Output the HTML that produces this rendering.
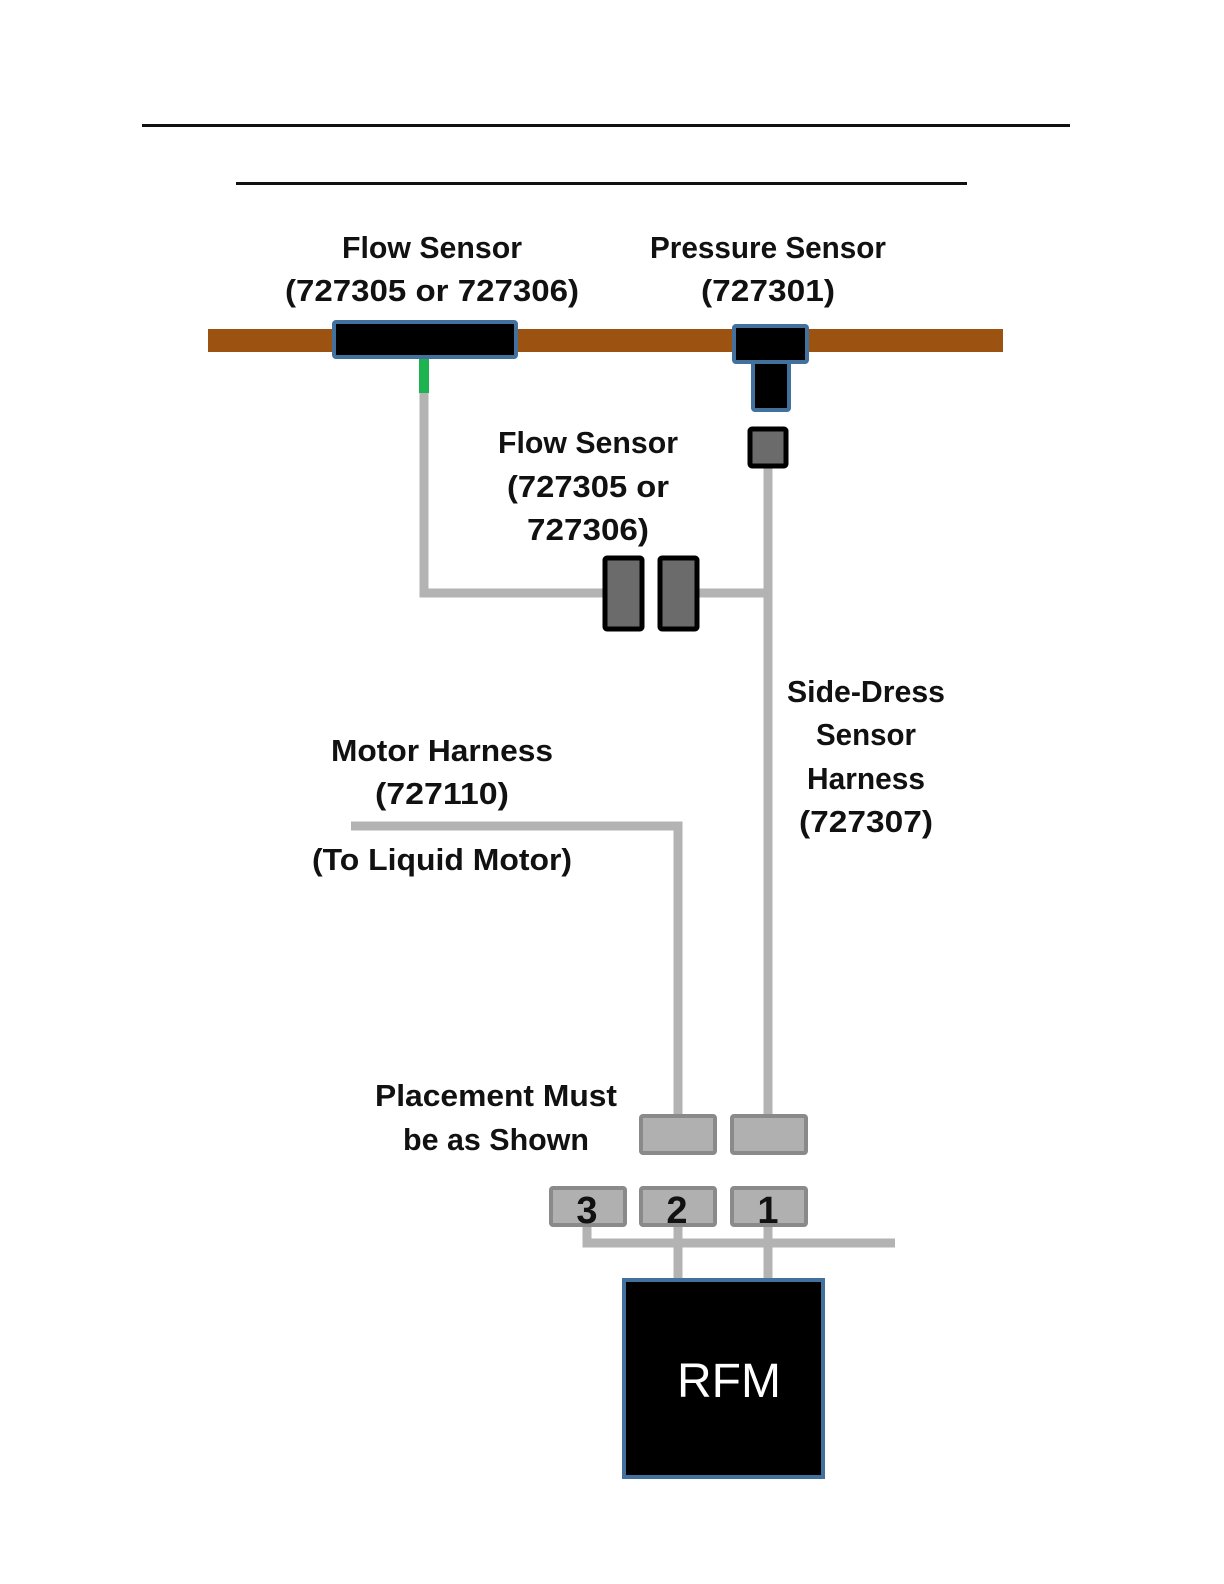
<!DOCTYPE html>
<html><head><meta charset="utf-8"><style>
html,body{margin:0;padding:0;background:#fff;}
svg{display:block;}
text{font-family:"Liberation Sans",sans-serif;font-weight:bold;fill:#111;font-size:31px;text-anchor:middle;}
</style></head><body>
<svg width="1224" height="1584" viewBox="0 0 1224 1584">
<rect x="142" y="124" width="928" height="3" fill="#111"/>
<rect x="236" y="182" width="731" height="3" fill="#111"/>

<text x="432" y="258" textLength="180" lengthAdjust="spacingAndGlyphs">Flow Sensor</text>
<text x="432" y="301" textLength="294" lengthAdjust="spacingAndGlyphs">(727305 or 727306)</text>
<text x="768" y="258" textLength="236" lengthAdjust="spacingAndGlyphs">Pressure Sensor</text>
<text x="768" y="301" textLength="134" lengthAdjust="spacingAndGlyphs">(727301)</text>

<rect x="208" y="329" width="795" height="23" fill="#9c5210"/>
<rect x="334" y="322" width="182" height="35" fill="#000" stroke="#41719c" stroke-width="4" rx="2"/>
<rect x="753" y="356" width="36" height="54" fill="#000" stroke="#41719c" stroke-width="4" rx="2"/>
<rect x="734" y="326" width="73" height="36" fill="#000" stroke="#41719c" stroke-width="4" rx="2"/>

<rect x="419" y="359" width="10" height="34" fill="#1db350"/>
<g stroke="#b3b3b3" stroke-width="9" fill="none">
<polyline points="424,393 424,593 606,593"/>
<line x1="697" y1="593" x2="768" y2="593"/>
<line x1="768" y1="466" x2="768" y2="1116"/>
<polyline points="351,826 678,826 678,1116"/>
<line x1="678" y1="1226" x2="678" y2="1280"/>
<line x1="768" y1="1226" x2="768" y2="1280"/>
<polyline points="587,1226 587,1243 895,1243"/>
</g>
<rect x="750" y="429" width="36" height="37" fill="#6b6b6b" stroke="#000" stroke-width="5" rx="2"/>
<rect x="605" y="558" width="37" height="71" fill="#6b6b6b" stroke="#000" stroke-width="5" rx="2"/>
<rect x="660" y="558" width="37" height="71" fill="#6b6b6b" stroke="#000" stroke-width="5" rx="2"/>

<text x="588" y="453" textLength="180" lengthAdjust="spacingAndGlyphs">Flow Sensor</text>
<text x="588" y="497" textLength="162" lengthAdjust="spacingAndGlyphs">(727305 or</text>
<text x="588" y="540" textLength="122" lengthAdjust="spacingAndGlyphs">727306)</text>

<text x="866" y="702" textLength="158" lengthAdjust="spacingAndGlyphs">Side-Dress</text>
<text x="866" y="745" textLength="100" lengthAdjust="spacingAndGlyphs">Sensor</text>
<text x="866" y="789" textLength="118" lengthAdjust="spacingAndGlyphs">Harness</text>
<text x="866" y="832" textLength="134" lengthAdjust="spacingAndGlyphs">(727307)</text>

<text x="442" y="761" textLength="222" lengthAdjust="spacingAndGlyphs">Motor Harness</text>
<text x="442" y="804" textLength="134" lengthAdjust="spacingAndGlyphs">(727110)</text>
<text x="442" y="870" textLength="260" lengthAdjust="spacingAndGlyphs">(To Liquid Motor)</text>

<text x="496" y="1106" textLength="242" lengthAdjust="spacingAndGlyphs">Placement Must</text>
<text x="496" y="1150" textLength="186" lengthAdjust="spacingAndGlyphs">be as Shown</text>

<g fill="#b0b0b0" stroke="#8a8a8a" stroke-width="4">
<rect x="641" y="1116" width="74" height="37" rx="2"/>
<rect x="732" y="1116" width="74" height="37" rx="2"/>
<rect x="551" y="1188" width="74" height="37" rx="2"/>
<rect x="641" y="1188" width="74" height="37" rx="2"/>
<rect x="732" y="1188" width="74" height="37" rx="2"/>
</g>
<text x="587" y="1223" style="font-size:38px">3</text>
<text x="677" y="1223" style="font-size:38px">2</text>
<text x="768" y="1223" style="font-size:38px">1</text>

<rect x="624" y="1280" width="199" height="197" fill="#000" stroke="#41719c" stroke-width="4"/>
<text x="729" y="1397" style="font-size:48px;font-weight:normal;fill:#fff">RFM</text>
</svg>
</body></html>
